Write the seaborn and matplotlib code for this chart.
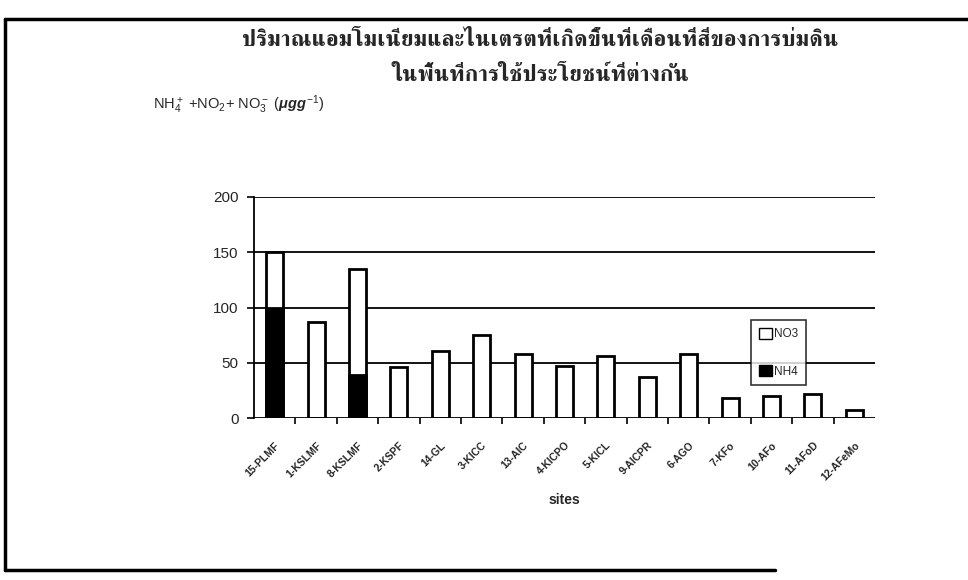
import numpy as np
import pandas as pd
import matplotlib
matplotlib.use("Agg")
import matplotlib.pyplot as plt
import seaborn as sns
from matplotlib import font_manager
from matplotlib.ft2font import FT2Font
from matplotlib.lines import Line2D
from matplotlib.patches import Patch

sites = ["15-PLMF", "1-KSLMF", "8-KSLMF", "2-KSPF", "14-GL", "3-KICC", "13-AIC",
         "4-KICPO", "5-KICL", "9-AICPR", "6-AGO", "7-KFo", "10-AFo", "11-AFoD", "12-AFeMo"]
nh4 = [100, 0, 39, 0, 0, 0, 0, 0, 0, 0, 0, 0, 0, 0, 0]
no3 = [50, 87, 96, 46, 61, 75, 58, 47, 56, 37, 58, 18, 20, 22, 7]
yticks = [0, 50, 100, 150, 200]
title = "ปริมาณแอมโมเนียมและไนเตรตที่เกิดขึ้นที่เดือนที่สี่ของการบ่มดิน\nในพื้นที่การใช้ประโยชน์ที่ต่างกัน"

df = pd.DataFrame({"site": sites, "NH4": nh4, "NO3": no3})
df["total"] = df["NH4"] + df["NO3"]

# find a font with Thai glyphs
thai_font = None
cands = []
for fe in font_manager.fontManager.ttflist:
    try:
        f = FT2Font(fe.fname)
        cm = f.get_charmap()
        if ord("ป") in cm and ord("ณ") in cm:
            cands.append(fe)
    except Exception:
        pass
serif = [c for c in cands if "serif" in c.name.lower() or "Serif" in c.fname]
bold = [c for c in (serif or cands) if c.weight in ("bold", 700)]
pick = (bold or serif or cands)
if pick:
    thai_font = pick[0].name

sns.set_theme(style="white")
plt.rcParams["font.family"] = ["Liberation Sans", "DejaVu Sans"]
plt.rcParams["mathtext.fontset"] = "custom"
plt.rcParams["mathtext.rm"] = "Liberation Sans"
plt.rcParams["mathtext.it"] = "Liberation Sans:italic:bold"
plt.rcParams["mathtext.bf"] = "Liberation Sans:bold"

fig = plt.figure(figsize=(9.68, 5.8), dpi=100)
ax = fig.add_axes([254/968, 1-418/580, (875-254)/968, (418-197)/580])

sns.barplot(data=df, x="site", y="total", color="white", edgecolor="black",
            linewidth=2.0, width=0.41, ax=ax, zorder=3, saturation=1)
sns.barplot(data=df, x="site", y="NH4", color="black", edgecolor="black",
            linewidth=2.0, width=0.41, ax=ax, zorder=4, saturation=1)

ax.set_ylim(0, 200)
ax.set_xlim(-0.5, len(sites) - 0.5)
ax.set_yticks(yticks)
ax.set_yticklabels([str(v) for v in yticks], fontsize=11)
for v in yticks:
    ax.axhline(v, color="black", lw=1.3, zorder=1)
for s in ["top", "right", "bottom"]:
    ax.spines[s].set_visible(False)
ax.spines["left"].set_color("black")
ax.spines["left"].set_linewidth(1.3)
ax.tick_params(axis="y", which="both", left=True, length=5, width=1.2, color="black", pad=6)
ax.set_xticks(range(len(sites)))
ax.set_xticklabels(sites, rotation=45, ha="right", rotation_mode="anchor",
                   fontsize=7.5, fontweight="bold")
ax.tick_params(axis="x", which="major", bottom=False, pad=10)
ax.set_xticks(np.arange(0.5, len(sites) - 0.5, 1), minor=True)
ax.tick_params(axis="x", which="minor", bottom=True, length=4, width=1.2, color="black")
ax.set_xlabel("sites", fontsize=10, fontweight="bold", labelpad=8)
ax.set_ylabel("")

leg = ax.legend(handles=[Patch(facecolor="white", edgecolor="black", label="NO3"),
                         Patch(facecolor="black", edgecolor="black", label="NH4")],
                loc="upper left", bbox_to_anchor=((745-254)/621, (418-314)/221),
                frameon=True, fancybox=False, edgecolor="black", fontsize=8.5,
                handlelength=1.1, handleheight=1.1, handletextpad=0.2,
                labelspacing=2.1, borderpad=0.65)
leg.get_frame().set_linewidth(1.2)
leg.set_zorder(6)

tkw = {"fontsize": 16.5, "fontweight": "bold"}
if thai_font:
    tkw["family"] = [thai_font, "DejaVu Sans"]
fig.text(540/968, 1-58/580, title, ha="center", va="center", linespacing=1.85, **tkw)

fig.text(153/968, 1-105/580,
         r"NH$_4^+$ +NO$_2$+ NO$_3^-$ ($\mathit{\mu gg^{-1}}$)",
         ha="left", va="center", fontsize=10.5)

# outer frame
fig.add_artist(Line2D([5/968, 5/968], [1-570/580, 1-19/580], color="black", lw=2.5, transform=fig.transFigure))
fig.add_artist(Line2D([5/968, 1.0], [1-19/580, 1-19/580], color="black", lw=2.5, transform=fig.transFigure))
fig.add_artist(Line2D([5/968, 775/968], [1-570/580, 1-570/580], color="black", lw=2.5, transform=fig.transFigure))

fig.savefig("out.png", dpi=100, facecolor="white")
